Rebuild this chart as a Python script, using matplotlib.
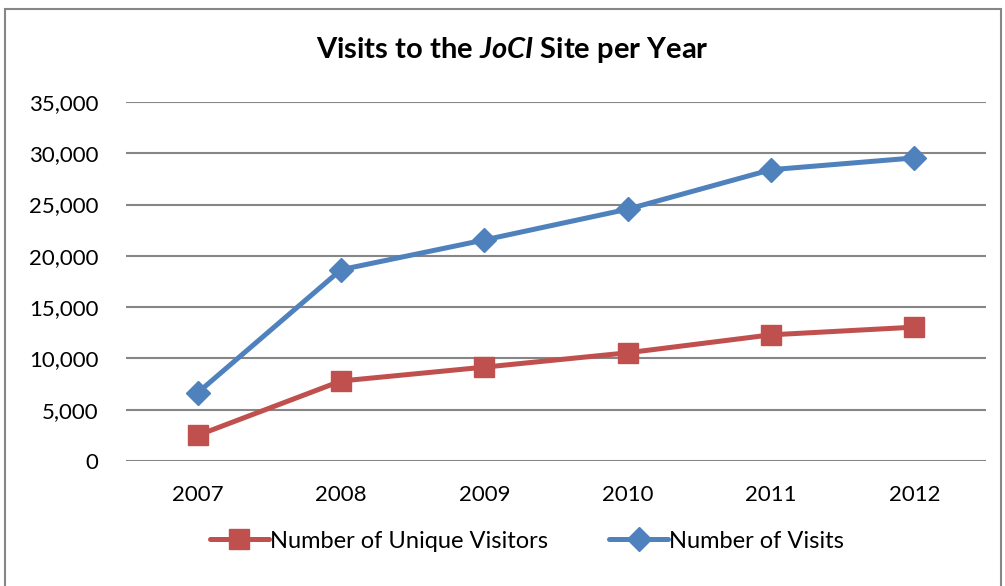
import matplotlib.pyplot as plt
from matplotlib.patches import Rectangle

years = ["2007", "2008", "2009", "2010", "2011", "2012"]
unique_visitors = [2500, 7800, 9150, 10550, 12300, 13050]
visits = [6650, 18650, 21550, 24550, 28400, 29550]
yticks = [0, 5000, 10000, 15000, 20000, 25000, 30000, 35000]

plt.rcParams['font.family'] = ['Lato', 'DejaVu Sans']
plt.rcParams['mathtext.fontset'] = 'custom'
plt.rcParams['mathtext.it'] = 'Lato:italic:bold'
plt.rcParams['mathtext.rm'] = 'Lato:bold'

fig = plt.figure(figsize=(10.05, 5.86), dpi=100)
ax = fig.add_axes([126/1005, 125/586, 860/1005, 359/586])

# outer chart frame (bottom edge runs off the image)
fig.patches.append(Rectangle((5/1005, -0.05), 996/1005, 0.05 + 577/586, transform=fig.transFigure,
                             fill=False, edgecolor='#868686', linewidth=1.5))

x = list(range(len(years)))
red = '#C0504D'
blue = '#4F81BD'
ax.plot(x, unique_visitors, color=red, lw=3.6, marker='s', ms=15,
        label='Number of Unique Visitors', solid_capstyle='round')
ax.plot(x, visits, color=blue, lw=3.6, marker='D', ms=12,
        label='Number of Visits', solid_capstyle='round')

ax.set_xlim(-0.5, len(years) - 0.5)
ax.set_ylim(0, 35000)
ax.set_xticks(x)
ax.set_xticklabels(years)
ax.set_yticks(yticks)
ax.set_yticklabels([f"{v:,}" for v in yticks])
ax.tick_params(length=0, labelsize=16, colors='black')
ax.tick_params(axis='x', pad=17)
ax.tick_params(axis='y', pad=20)
for y in yticks:
    ax.axhline(y, color='#868686', lw=1.5, zorder=0)
for s in ax.spines.values():
    s.set_visible(False)

fig.text(512/1005, 1 - 50/586, r"Visits to the $JoCI$ Site per Year",
         ha='center', va='center', fontsize=21, fontweight='bold')

fig.legend(loc='center', bbox_to_anchor=(527/1005, 1 - 541/586), ncol=2, frameon=False,
           fontsize=17, handlelength=2.5, handletextpad=0.05, columnspacing=2.6)

fig.savefig('out.png', dpi=100)
